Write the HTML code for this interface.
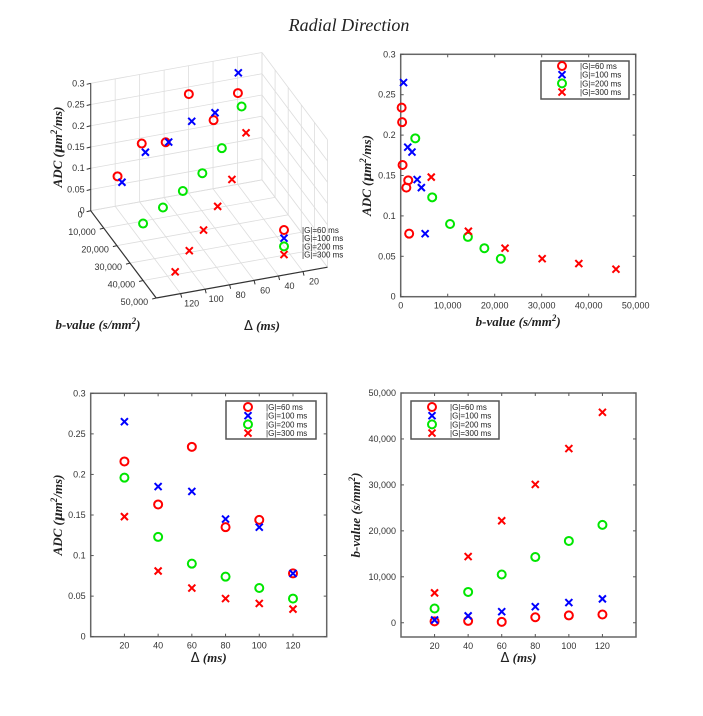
<!DOCTYPE html>
<html><head><meta charset="utf-8"><style>
body{margin:0;background:#fff;}
svg{display:block;font-family:"Liberation Sans",sans-serif;}
.tick{font-size:9px;fill:#333;}
.ttl{font-family:"Liberation Serif",serif;font-style:italic;font-weight:bold;font-size:13px;fill:#222;}
.leg{font-size:8px;fill:#222;}
</style></head><body>
<svg id="fig" width="703" height="716" viewBox="0 0 703 716" xmlns="http://www.w3.org/2000/svg">
<text x="349" y="31" text-anchor="middle" font-family="Liberation Serif,serif" font-style="italic" font-size="18" fill="#222">Radial Direction</text>
</svg>
<script>
const deltas=[20,40,60,80,100,120];
const groupLabels=['|G|=60 ms','|G|=100 ms','|G|=200 ms','|G|=300 ms'];
const adcG60=[0.216,0.163,0.234,0.135,0.144,0.078];
const adcG100=[0.265,0.185,0.179,0.145,0.135,0.078];
const adcG200=[0.196,0.123,0.090,0.074,0.060,0.047];
const adcG300=[0.148,0.081,0.060,0.047,0.041,0.034];
const bG60=[300,400,200,1200,1600,1800];
const bG100=[600,1500,2400,3500,4400,5200];
const bG200=[3100,6700,10500,14300,17800,21300];
const bG300=[6500,14400,22200,30100,37900,45800];
const adcTicks=[0,0.05,0.1,0.15,0.2,0.25,0.3];
const adcTickLabels=['0','0.05','0.1','0.15','0.2','0.25','0.3'];
const bTicks=[0,10000,20000,30000,40000,50000];
const bTickLabels=['0','10,000','20,000','30,000','40,000','50,000'];
const deltaTicks=[20,40,60,80,100,120];
const deltaTickLabels=['20','40','60','80','100','120'];

const adcSeries=[adcG60,adcG100,adcG200,adcG300];
const bSeries=[bG60,bG100,bG200,bG300];
const styles=[{c:'#ff0000',m:'o'},{c:'#0000ff',m:'x'},{c:'#00e600',m:'o'},{c:'#ff0000',m:'x'}];
const NS='http://www.w3.org/2000/svg';
const fig=document.getElementById('fig');
function el(tag,attrs,parent){const e=document.createElementNS(NS,tag);for(const k in attrs)e.setAttribute(k,attrs[k]);(parent||fig).appendChild(e);return e;}
function marker(g,x,y,s,name){
  let e;
  if(s.m==='o'){e=el('circle',{cx:x,cy:y,r:4,fill:'none',stroke:s.c,'stroke-width':2},g);}
  else{e=el('path',{d:`M${x-3.5},${y-3.5}L${x+3.5},${y+3.5}M${x-3.5},${y+3.5}L${x+3.5},${y-3.5}`,stroke:s.c,'stroke-width':2,fill:'none'},g);}
  
  
  return e;
}
function legend(g,x0,y0,box,mx,tx,dy){
  if(box){const r=el('rect',{x:box[0],y:box[1],width:box[2],height:box[3],fill:'#fff',stroke:'#555','stroke-width':1.5},g);
    
    }
  for(let i=0;i<4;i++){
    const y=y0+i*dy;
    marker(g,mx,y,styles[i],'legend-marker');
    const t=el('text',{x:tx,y:y+3,class:'leg'},g);t.textContent=groupLabels[i];
    
    
  }
}
function plot2d(o){
  const g=el('g',{});
  
  
  const sx=v=>o.L+(v-o.xd[0])/(o.xd[1]-o.xd[0])*(o.R-o.L);
  const sy=v=>o.B-(v-o.yd[0])/(o.yd[1]-o.yd[0])*(o.B-o.T);
  const f=el('rect',{x:o.L,y:o.T,width:o.R-o.L,height:o.B-o.T,fill:'#fff',stroke:'#666','stroke-width':1.5},g);
  
  
  o.xt.forEach((v,i)=>{const x=sx(v);
    el('line',{x1:x,y1:o.B,x2:x,y2:o.B-3,stroke:'#555'},g);el('line',{x1:x,y1:o.T,x2:x,y2:o.T+3,stroke:'#555'},g);
    const t=el('text',{x:x,y:o.B+12,'text-anchor':'middle',class:'tick'},g);t.textContent=o.xl[i];
    
    });
  o.yt.forEach((v,i)=>{const y=sy(v);
    el('line',{x1:o.L,y1:y,x2:o.L+3,y2:y,stroke:'#555'},g);el('line',{x1:o.R,y1:y,x2:o.R-3,y2:y,stroke:'#555'},g);
    const t=el('text',{x:o.L-5,y:y+3,'text-anchor':'end',class:'tick'},g);t.textContent=o.yl[i];
    
    });
  const xt=el('text',{x:(o.L+o.R)/2,y:o.xty,'text-anchor':'middle',class:'ttl'},g);xt.innerHTML=o.xtitle;
  
  
  const yc=(o.T+o.B)/2;
  const yt=el('text',{x:o.ytx,y:yc,'text-anchor':'middle',class:'ttl',transform:`rotate(-90 ${o.ytx} ${yc})`},g);yt.innerHTML=o.ytitle;
  
  
  for(let s=0;s<4;s++){const xs=o.xs[s],ys=o.ys[s];
    for(let i=0;i<xs.length;i++)marker(g,sx(xs[i]),sy(ys[i]),styles[s],'point-series-'+(s+1));}
  legend(g,0,o.leg[1],o.leg[2],o.leg[3],o.leg[4],8.7);
}
const adcTitle='ADC (<tspan font-family="DejaVu Serif,serif" font-size="12">μ</tspan>m<tspan dy="-5" font-size="9">2</tspan><tspan dy="5">/ms)</tspan>';
const bTitle='b-value (s/mm<tspan dy="-5" font-size="9">2</tspan><tspan dy="5">)</tspan>';
const dTitle='<tspan font-style="normal" font-family="DejaVu Sans,sans-serif" font-weight="normal">Δ</tspan> (ms)';
plot2d({name:'adc-vs-bvalue-plot',L:400.7,R:635.7,T:54.3,B:296.7,xd:[0,50000],yd:[0,0.3],xt:bTicks,xl:bTickLabels,yt:adcTicks,yl:adcTickLabels,
  xtitle:bTitle,ytitle:adcTitle,xty:326,ytx:371,xs:bSeries,ys:adcSeries,leg:[0,66,[541,61,88,38],562,580]});
plot2d({name:'adc-vs-delta-plot',L:90.7,R:326.7,T:393.3,B:636.7,xd:[0,140],yd:[0,0.3],xt:deltaTicks,xl:deltaTickLabels,yt:adcTicks,yl:adcTickLabels,
  xtitle:dTitle,ytitle:adcTitle,xty:662,ytx:62,xs:[deltas,deltas,deltas,deltas],ys:adcSeries,leg:[0,407,[226,401,90,38],248,266]});
plot2d({name:'bvalue-vs-delta-plot',L:401,R:636,T:393,B:637,xd:[0,140],yd:[-3100,50000],xt:deltaTicks,xl:deltaTickLabels,yt:bTicks,yl:bTickLabels,
  xtitle:dTitle,ytitle:bTitle,xty:662,ytx:360,xs:[deltas,deltas,deltas,deltas],ys:bSeries,leg:[0,407,[411,401,88,38],432,450]});

// 3D plot
const g3=el('g',{});


const O=[90.7,210.7],Bv=[65.5,87.3],Dv=[171.3,-30.8],Zv=[0,-127.4];
function P(b,d,a){const u=b/50000,v=(140-d)/140,w=a/0.3;return [O[0]+u*Bv[0]+v*Dv[0]+w*Zv[0],O[1]+u*Bv[1]+v*Dv[1]+w*Zv[1]];}
function ln(p,q,c,w){return el('line',{x1:p[0],y1:p[1],x2:q[0],y2:q[1],stroke:c||'#ddd','stroke-width':w||0.8},g3);}
const dGrid=[0,20,40,60,80,100,120,140];
dGrid.forEach(d=>ln(P(0,d,0),P(0,d,0.3)));
adcTicks.forEach(a=>ln(P(0,140,a),P(0,0,a)));
bTicks.forEach(b=>ln(P(b,0,0),P(b,0,0.3)));
adcTicks.forEach(a=>ln(P(0,0,a),P(50000,0,a)));
bTicks.forEach(b=>ln(P(b,140,0),P(b,0,0)));
dGrid.forEach(d=>ln(P(0,d,0),P(50000,d,0)));
ln(P(0,140,0),P(0,140,0.3),'#555',1.2);
ln(P(0,140,0),P(50000,140,0),'#333',1.2);
ln(P(50000,140,0),P(50000,0,0),'#333',1.2);
adcTicks.forEach((a,i)=>{const p=P(0,140,a);ln(p,[p[0]-4,p[1]+1],'#333',1);
  const t=el('text',{x:p[0]-6,y:p[1]+3,'text-anchor':'end',class:'tick'},g3);t.textContent=adcTickLabels[i];
  
  });
bTicks.forEach((b,i)=>{const p=P(b,140,0);ln(p,[p[0]-4,p[1]+1],'#333',1);
  const t=el('text',{x:p[0]-8,y:p[1]+7,'text-anchor':'end',class:'tick'},g3);t.textContent=bTickLabels[i];
  
  });
deltaTicks.forEach((d,i)=>{const p=P(50000,d,0);ln(p,[p[0]+1,p[1]+4],'#333',1);
  const t=el('text',{x:p[0]+11,y:p[1]+13,'text-anchor':'middle',class:'tick'},g3);t.textContent=deltaTickLabels[i];
  
  });
for(let s=0;s<4;s++)for(let i=0;i<6;i++){const p=P(bSeries[s][i],deltas[i],adcSeries[s][i]);marker(g3,p[0],p[1],styles[s],'point-3d-series-'+(s+1));}
legend(g3,0,230,null,284,302,8.2);
const zt=el('text',{x:62,y:147,'text-anchor':'middle',class:'ttl',transform:'rotate(-90 62 147)'},g3);zt.innerHTML=adcTitle;


const bt=el('text',{x:98,y:329,'text-anchor':'middle',class:'ttl'},g3);bt.innerHTML=bTitle;


const dt=el('text',{x:262,y:330,'text-anchor':'middle',class:'ttl'},g3);dt.innerHTML=dTitle;


</script>
</body></html>
